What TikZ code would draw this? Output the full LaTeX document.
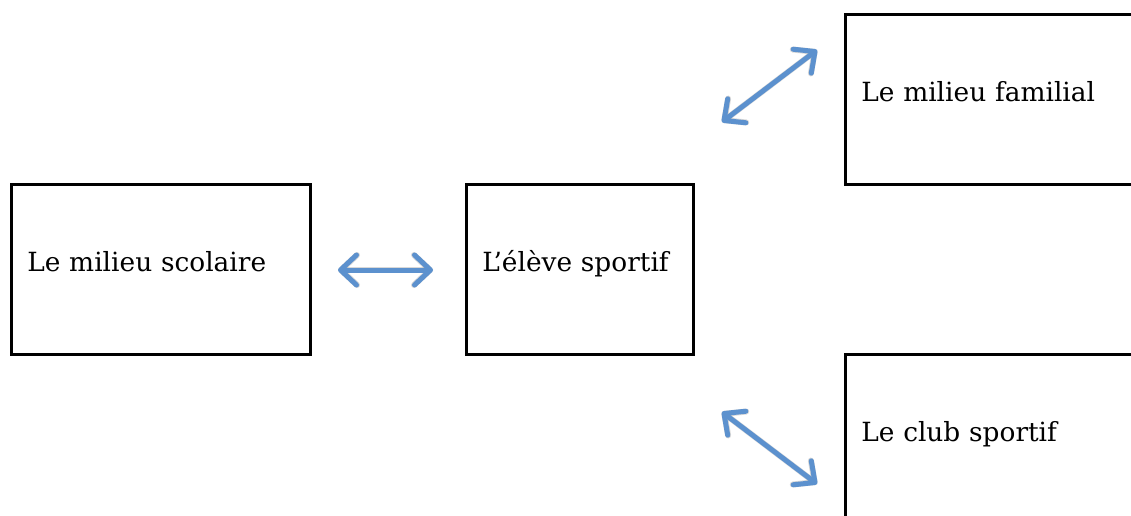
\documentclass[tikz,border=0pt]{standalone}
\usepackage{fontspec}
\setmainfont{DejaVu Serif}
\usetikzlibrary{arrows.meta}
\definecolor{arrowblue}{RGB}{92,145,206}
\tikzset{
  box/.style={draw=black, line width=2.6pt, rectangle, anchor=north west,
    inner xsep=16pt, inner ysep=0pt, align=left,
    text height=12pt, text depth=8pt,
    font=\fontsize{26.4}{32}\selectfont},
  linkarrow/.style={draw=arrowblue, line width=5pt, line cap=round,
    {Straight Barb[length=16pt,width=30pt,line cap=round,line join=round]}-{Straight Barb[length=16pt,width=30pt,line cap=round,line join=round]}},
  linkshadow/.style={draw=black!50, opacity=0.3, line width=6pt, line cap=round,
    {Straight Barb[length=16pt,width=30pt,line cap=round,line join=round]}-{Straight Barb[length=16pt,width=30pt,line cap=round,line join=round]}}
}
\begin{document}
\begin{tikzpicture}[x=1pt,y=-1pt]
\useasboundingbox (0,0) rectangle (1131,515);
\clip (0,0) rectangle (1131,515);
\fill[white] (0,0) rectangle (1131,515);
\node[box, minimum width=299pt, minimum height=170pt, text width=267pt] (scol) at (10,183) {\mbox{Le milieu scolaire}};
\node[box, minimum width=227pt, minimum height=170pt, text width=195pt] (eleve) at (465,183) {\mbox{L’élève sportif}};
\node[box, minimum width=299pt, minimum height=170pt, text width=267pt] (fam) at (844,13) {\mbox{Le milieu familial}};
\node[box, minimum width=299pt, minimum height=170pt, text width=267pt] (club) at (844,353) {\mbox{Le club sportif}};
\coordinate (a1) at (338,270);
\coordinate (a2) at (433,270);
\coordinate (b1) at (722,122);
\coordinate (b2) at (817,50);
\coordinate (c1) at (722,412);
\coordinate (c2) at (817,484);
\begin{scope}[shift={(2.5,3.5)}]
\draw[linkshadow] (a1) -- (a2);
\draw[linkshadow] (b1) -- (b2);
\draw[linkshadow] (c1) -- (c2);
\end{scope}
\draw[linkarrow] (a1) -- (a2);
\draw[linkarrow] (b1) -- (b2);
\draw[linkarrow] (c1) -- (c2);
\end{tikzpicture}
\end{document}
